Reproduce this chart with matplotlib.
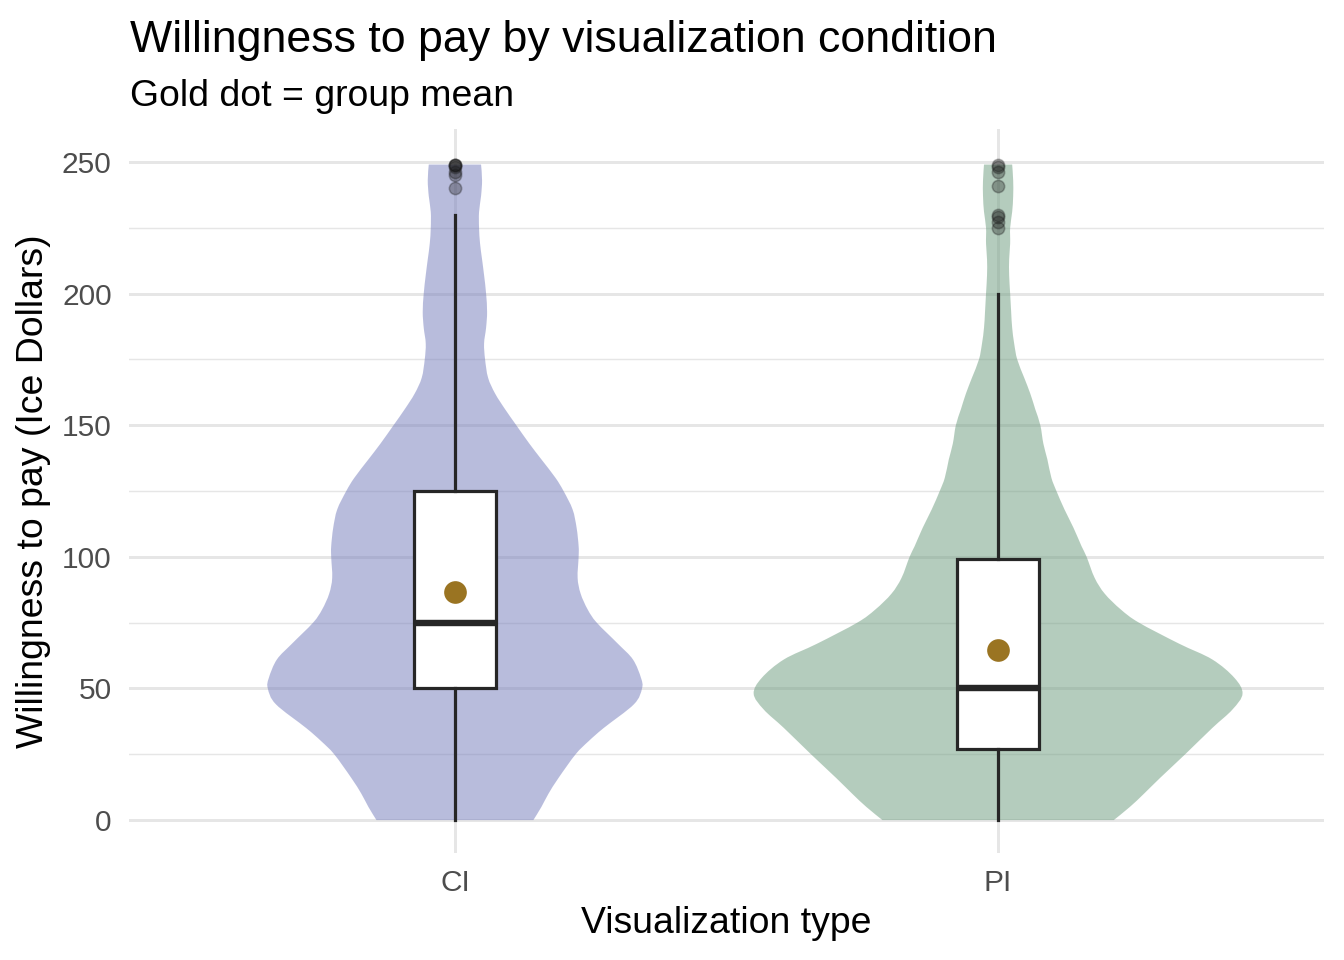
import numpy as np
import matplotlib.pyplot as plt
from matplotlib.path import Path
from matplotlib.patches import PathPatch

# ---------------------------------------------------------------------------
# Data
# ---------------------------------------------------------------------------
CONDITIONS = ["CI", "PI"]

# violin outlines: y levels (Ice Dollars) and relative density at each level
CI_LEVELS = [0, 5, 10, 16, 25, 30, 35, 44, 50, 54, 61, 67, 75, 80, 86, 92, 100,
             104, 111, 118, 125, 130, 137, 143, 150, 156, 162, 168, 175, 181,
             187, 193, 200, 207, 213, 219, 225, 231, 237, 243, 249]
CI_DENSITY = [78, 86, 93, 103, 120, 133, 148, 178, 186, 185, 177, 162, 141, 132,
              125, 122, 123, 123, 121, 117, 108, 100, 86, 74, 61, 50, 40, 33, 30,
              29, 31, 32, 31, 29, 27, 25, 24, 24, 26, 27, 26]

PI_LEVELS = [0, 5, 10, 16, 25, 35, 42, 48, 54, 61, 67, 75, 80, 86, 92, 100, 104,
             111, 118, 125, 130, 137, 143, 150, 156, 162, 168, 175, 181, 187,
             193, 200, 207, 213, 219, 225, 231, 237, 243, 249]
PI_DENSITY = [115, 131, 145, 161, 186, 213, 233, 243, 235, 213, 180, 140, 122,
              106, 96, 88, 83, 75, 66, 58, 53, 49, 45, 42, 37, 32, 26, 19, 16,
              14, 13, 12, 11, 11, 12, 12, 14, 15, 15, 14]

# box plot summaries
Q1 = [50, 27]
MEDIANS = [75, 50]
Q3 = [125, 99]
WHISKER_LOW = [0, 0]
WHISKER_HIGH = [230, 200]
GROUP_MEANS = [86.5, 64.5]
CI_OUTLIERS = [249, 249, 249, 248, 246, 245, 240]
PI_OUTLIERS = [249, 248, 246, 241, 230, 229, 227, 225]

# ---------------------------------------------------------------------------
# Styling
# ---------------------------------------------------------------------------
FILL_COLOURS = ["#737BBB", "#6B9B7D"]
MEAN_COLOUR = "#9A7422"
GRID_COLOUR = "#E6E6E6"
BOX_COLOUR = "#262626"
MAX_VIOLIN_HALF_WIDTH = 0.45   # ggplot default violin width 0.9

plt.rcParams["font.family"] = ["Liberation Sans", "DejaVu Sans"]


def _smooth_segments(points):
    """Catmull-Rom style cubic Bezier segments through the given outline points."""
    verts, n = [], len(points)
    for i in range(n - 1):
        p0 = points[max(i - 1, 0)]
        p1 = points[i]
        p2 = points[i + 1]
        p3 = points[min(i + 2, n - 1)]
        verts += [p1 + (p2 - p0) / 6.0, p2 - (p3 - p1) / 6.0, p2]
    return verts


def _violin_path(pos, levels, half):
    """Closed path: right side upwards, flat top, left side downwards, flat bottom."""
    right_pts = np.column_stack([pos + half, levels])
    left_pts = np.column_stack([pos - half, levels])[::-1]

    verts = [right_pts[0]]
    codes = [Path.MOVETO]
    seg = _smooth_segments(right_pts)
    verts += seg
    codes += [Path.CURVE4] * len(seg)
    verts.append(left_pts[0])
    codes.append(Path.LINETO)
    seg = _smooth_segments(left_pts)
    verts += seg
    codes += [Path.CURVE4] * len(seg)
    verts.append(right_pts[0])
    codes.append(Path.CLOSEPOLY)
    return Path(np.array(verts), codes)


W, H = 1344, 960
fig = plt.figure(figsize=(7, 5), dpi=192)

# panel placement in pixel coords
left, right, top, bottom = 129, 1324, 129, 853
ax = fig.add_axes([left / W, 1 - bottom / H, (right - left) / W, (bottom - top) / H])

# --- violins ---------------------------------------------------------------
levels = [np.array(CI_LEVELS, float), np.array(PI_LEVELS, float)]
densities = [np.array(CI_DENSITY, float), np.array(PI_DENSITY, float)]
peak = max(d.max() for d in densities)
for pos, (lv, dens, colour) in enumerate(zip(levels, densities, FILL_COLOURS), start=1):
    half = dens / peak * MAX_VIOLIN_HALF_WIDTH
    patch = PathPatch(_violin_path(pos, lv, half), facecolor=colour, alpha=0.5,
                      linewidth=0, zorder=2)
    ax.add_patch(patch)

# --- boxes -----------------------------------------------------------------
outliers = [CI_OUTLIERS, PI_OUTLIERS]
stats = []
for i, name in enumerate(CONDITIONS):
    stats.append({
        "label": name,
        "q1": Q1[i], "med": MEDIANS[i], "q3": Q3[i],
        "whislo": WHISKER_LOW[i], "whishi": WHISKER_HIGH[i],
        "mean": GROUP_MEANS[i], "fliers": outliers[i],
    })

ax.bxp(
    stats,
    positions=[1, 2],
    widths=0.15,
    patch_artist=True,
    showcaps=False,
    showmeans=True,
    boxprops=dict(facecolor="white", edgecolor=BOX_COLOUR, linewidth=1.2),
    whiskerprops=dict(color=BOX_COLOUR, linewidth=1.2),
    medianprops=dict(color=BOX_COLOUR, linewidth=2.4, solid_capstyle="butt"),
    meanprops=dict(marker="o", markerfacecolor=MEAN_COLOUR, markeredgecolor=MEAN_COLOUR,
                   markersize=7.5),
    flierprops=dict(marker="o", markerfacecolor="#1A1A1A", markeredgecolor="#1A1A1A",
                    markeredgewidth=0.6, markersize=4.6, alpha=0.32),
    zorder=3,
)

# --- axes, grid ------------------------------------------------------------
ax.set_xlim(0.4, 2.6)
ax.set_ylim(-12.5, 262.5)
ax.set_xticks([1, 2], CONDITIONS)
ax.set_yticks(np.arange(0, 251, 50))
ax.set_yticks(np.arange(25, 250, 50), minor=True)
ax.tick_params(axis="both", which="both", length=0, labelsize=11.2, labelcolor="#4D4D4D")
ax.tick_params(axis="y", pad=6.5)
ax.tick_params(axis="x", pad=6.0)

ax.set_axisbelow(True)
ax.yaxis.grid(True, which="major", color=GRID_COLOUR, linewidth=1.1)
ax.yaxis.grid(True, which="minor", color=GRID_COLOUR, linewidth=0.55)
ax.xaxis.grid(True, which="major", color=GRID_COLOUR, linewidth=1.1)
for spine in ax.spines.values():
    spine.set_visible(False)

# --- text ------------------------------------------------------------------
fig.text(130 / W, 1 - 52 / H, "Willingness to pay by visualization condition",
         fontsize=16.8, ha="left", va="baseline", color="black")
fig.text(130 / W, 1 - 106 / H, "Gold dot = group mean",
         fontsize=14, ha="left", va="baseline", color="black")
fig.text((left + right) / 2 / W, 1 - 933 / H, "Visualization type",
         fontsize=14, ha="center", va="baseline")
fig.text(34 / W, 1 - (top + bottom) / 2 / H, "Willingness to pay (Ice Dollars)",
         fontsize=14, ha="center", va="center", rotation=90)

fig.savefig("out.png", dpi=192, facecolor="white")
plt.close(fig)
